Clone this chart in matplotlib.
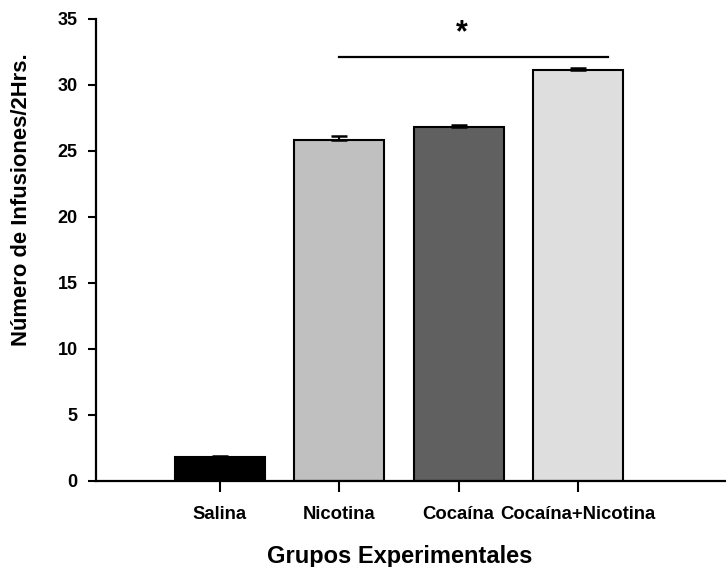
import matplotlib.pyplot as plt
import numpy as np

plt.rcParams['font.family'] = ['Liberation Sans', 'DejaVu Sans']
plt.rcParams['font.weight'] = 'bold'

grupos = ['Salina', 'Nicotina', 'Cocaína', 'Cocaína+Nicotina']
medias = [1.8, 25.8, 26.8, 31.1]
errores = [0.1, 0.3, 0.12, 0.2]
colores = ['#000000', '#c0c0c0', '#606060', '#dedede']
yticks = [0, 5, 10, 15, 20, 25, 30, 35]

fig = plt.figure(figsize=(7.26, 5.67), dpi=100)
ax = fig.add_axes([0.132, 0.152, 0.868, 0.815])

x = np.arange(len(grupos))
ax.bar(x, medias, width=0.755, color=colores, edgecolor='black', linewidth=1.5,
       zorder=2)
ax.errorbar(x, medias, yerr=[np.zeros(len(medias)), errores], fmt='none',
            ecolor='black', elinewidth=1.5, capsize=5.5, capthick=1.8, zorder=3)

# linea de significancia
ax.plot([1.0, 3.25], [32.07, 32.07], color='black', lw=1.6, clip_on=False)
ax.text(2.03, 32.8, '*', ha='center', va='bottom', fontsize=22, fontweight='bold')

ax.set_xlim(-1.04, 4.24)
ax.set_ylim(0, 35)
ax.set_yticks(yticks)
ax.set_xticks(x)
ax.set_xticklabels(grupos, fontsize=13.3, fontweight='bold')
ax.tick_params(axis='y', labelsize=13, length=6, width=1.5, pad=7)
ax.tick_params(axis='x', length=8, width=1.5, pad=10)
for lab in ax.get_yticklabels():
    lab.set_fontweight('bold')

for s in ['top', 'right']:
    ax.spines[s].set_visible(False)
for s in ['left', 'bottom']:
    ax.spines[s].set_linewidth(1.6)

fig.text(0.55, 1 - 556 / 567, 'Grupos Experimentales', ha='center', va='center',
         fontsize=17, fontweight='bold')
fig.text(22 / 726, 1 - 200 / 567, 'Número de Infusiones/2Hrs.', ha='center',
         va='center', rotation=90, fontsize=15.8, fontweight='bold')

fig.savefig('out.png', dpi=100)
